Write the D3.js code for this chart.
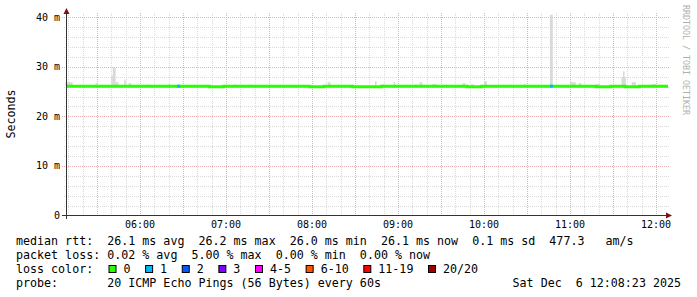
<!DOCTYPE html>
<html>
<head>
<meta charset="utf-8">
<script src="https://cdn.jsdelivr.net/npm/d3@7"></script>
<style>
  body { margin: 0; background: #fff; }
  text { font-family: "DejaVu Sans Mono", monospace; white-space: pre; }
</style>
</head>
<body>
<div id="chart"></div>
<script>
// data
const startTime = "2025-12-06 05:08:23";
const endTime = "2025-12-06 12:08:23";
const yTicks = [0, 10, 20, 30, 40];
const yTickLabels = ["0", "10 m", "20 m", "30 m", "40 m"];
const hourTicks = ["06:00", "07:00", "08:00", "09:00", "10:00", "11:00", "12:00"];

// median rtt (ms), one value per 10 minutes from 05:08
const medianRtt = [26.1, 26.1, 26.1, 26.1, 26.1, 26.1, 26.1, 26.1, 26.1, 26.1,
                   26.0, 26.1, 26.1, 26.1, 26.1, 26.1, 26.1, 26.0, 26.1, 26.1,
                   26.0, 26.0, 26.1, 26.1, 26.1, 26.1, 26.1, 26.1, 26.0, 26.1,
                   26.1, 26.1, 26.1, 26.1, 26.1, 26.1, 26.1, 26.0, 26.1, 26.0,
                   26.1, 26.1];

// smoke (spread of the 20 pings above the median)
const smokeFrom = ["05:08", "05:29", "05:40", "05:41", "05:43", "05:49", "05:52", "06:05", "06:20", "06:46",
                   "07:06", "07:16", "08:11", "08:44", "08:49", "08:57", "09:05", "09:12", "09:15", "09:24",
                   "09:45", "09:51", "10:00", "10:18", "10:28", "10:46", "11:00", "11:06", "11:18", "11:36",
                   "11:37", "11:43", "11:57"];
const smokeTo   = ["05:13", "05:30", "05:41", "05:43", "05:45", "05:50", "05:54", "06:06", "06:21", "06:47",
                   "07:07", "07:17", "08:13", "08:45", "08:50", "08:58", "09:06", "09:13", "09:17", "09:27",
                   "09:47", "09:53", "10:02", "10:19", "10:29", "10:48", "11:04", "11:08", "11:21", "11:39",
                   "11:38", "11:46", "12:00"];
const smokeMax  = [26.9, 26.7, 28.3, 29.9, 26.9, 27.4, 26.7, 26.5, 26.5, 26.4,
                   26.5, 26.4, 26.9, 27.1, 26.5, 26.9, 26.4, 26.5, 26.9, 26.5,
                   26.7, 26.5, 27.1, 26.4, 26.5, 40.5, 26.9, 26.7, 26.5, 27.9,
                   29.1, 26.9, 26.5];

// packet loss events
const lossTimes = ["06:26", "10:46"];
const lossCount = [1, 1];

const lossLabels = ["0", "1", "2", "3", "4-5", "6-10", "11-19", "20/20"];
const lossColors = ["#26ff00", "#00b8ff", "#0059ff", "#7e00ff", "#ff00ff", "#ff5500", "#ff0000", "#a10000"];

const legendLines = [
    "median rtt:  26.1 ms avg  26.2 ms max  26.0 ms min  26.1 ms now  0.1 ms sd  477.3   am/s",
    "packet loss: 0.02 % avg  5.00 % max  0.00 % min  0.00 % now",
    "loss color:",
    "probe:       20 ICMP Echo Pings (56 Bytes) every 60s"
];
const stampText = "Sat Dec  6 12:08:23 2025";

// ---------------------------------------------------------------
const width = 697, height = 297;
const svg = d3.select("#chart").append("svg").attr("width", width).attr("height", height)
    .style("background", "#fff");

const parse = d3.timeParse("%Y-%m-%d %H:%M:%S");
const day = "2025-12-06 ";
const t = s => parse(day + s + ":00");
const t0 = parse(startTime), t1 = parse(endTime);

const x = d3.scaleTime().domain([t0, t1]).range([66, 668]);
const y = d3.scaleLinear().domain([0, 40]).range([215.5, 17.3]);
const plotTop = 13;

// grid
const minorX = d3.timeMinute.every(10).range(t0, t1);
const majorX = d3.timeMinute.every(30).range(t0, t1);
const minorY = d3.range(2, 41, 2).filter(v => v % 10 != 0);

const grid = svg.append("g").attr("shape-rendering", "crispEdges");
grid.selectAll(".mx").data(minorX).enter().append("line")
    .attr("x1", d => Math.round(x(d)) + 0.5).attr("x2", d => Math.round(x(d)) + 0.5)
    .attr("y1", plotTop).attr("y2", 215)
    .attr("stroke", "#dadada").attr("stroke-dasharray", "1,1");
grid.selectAll(".my").data(minorY).enter().append("line")
    .attr("x1", 64).attr("x2", 669)
    .attr("y1", d => Math.round(y(d)) + 0.5).attr("y2", d => Math.round(y(d)) + 0.5)
    .attr("stroke", "#dadada").attr("stroke-dasharray", "1,1");
grid.selectAll(".Mx").data(majorX).enter().append("line")
    .attr("x1", d => Math.round(x(d)) + 0.5).attr("x2", d => Math.round(x(d)) + 0.5)
    .attr("y1", plotTop).attr("y2", 215)
    .attr("stroke", "#e8b0b0").attr("stroke-dasharray", "1,1");
grid.selectAll(".My").data(yTicks.slice(1)).enter().append("line")
    .attr("x1", 62).attr("x2", 669)
    .attr("y1", d => Math.round(y(d)) + 0.5).attr("y2", d => Math.round(y(d)) + 0.5)
    .attr("stroke", "#e8b0b0").attr("stroke-dasharray", "1,1");

// smoke
const smoke = smokeFrom.map((s, i) => [t(s), t(smokeTo[i]), smokeMax[i]]);
svg.append("g").selectAll("rect").data(smoke).enter().append("rect")
    .attr("x", d => x(d[0])).attr("width", d => Math.max(1.5, x(d[1]) - x(d[0])))
    .attr("y", d => y(d[2])).attr("height", d => y(26.1) - y(d[2]))
    .attr("fill", "#d9d9d9");

// median line
const medPts = medianRtt.map((v, i) => [d3.timeMinute.offset(t0, i * 10), v]);
medPts.push([t1, medianRtt[medianRtt.length - 1]]);
svg.append("path")
    .attr("d", d3.line().x(d => x(d[0])).y(d => y(d[1])).curve(d3.curveStepAfter)(medPts))
    .attr("fill", "none").attr("stroke", lossColors[0]).attr("stroke-width", 3);

// loss coloured points on the median
svg.append("g").selectAll("rect").data(lossTimes).enter().append("rect")
    .attr("x", d => x(t(d))).attr("width", d => x(d3.timeMinute.offset(t(d), 2)) - x(t(d)))
    .attr("y", d => y(medianRtt[Math.floor((t(d) - t0) / 600000)]) - 1.5).attr("height", 3)
    .attr("fill", (d, i) => lossColors[lossCount[i]]);

// axes
const axisColor = "#333", arrowColor = "#7f1010";
svg.append("line").attr("x1", 62).attr("x2", 668).attr("y1", 215.5).attr("y2", 215.5)
    .attr("stroke", axisColor).attr("stroke-width", 1);
svg.append("line").attr("x1", 66.5).attr("x2", 66.5).attr("y1", 219).attr("y2", 12)
    .attr("stroke", axisColor).attr("stroke-width", 1);
svg.append("path").attr("d", "M666,212.5 L672,215.5 L666,218.5 Z").attr("fill", arrowColor);
svg.append("path").attr("d", "M63.5,14 L66.5,8 L69.5,14 Z").attr("fill", arrowColor);

// tick labels
svg.append("g").selectAll("text").data(yTicks).enter().append("text")
    .attr("x", 60).attr("y", d => y(d) + 3.5).attr("text-anchor", "end")
    .attr("font-size", 10).attr("fill", "#000").text((d, i) => yTickLabels[i]);
svg.append("g").selectAll("text").data(hourTicks).enter().append("text")
    .attr("x", d => x(t(d))).attr("y", 228).attr("text-anchor", "middle")
    .attr("font-size", 10).attr("fill", "#000").text(d => d);

// axis title
svg.append("text").attr("transform", "translate(15,114) rotate(-90)")
    .attr("text-anchor", "middle").attr("font-size", 11.66).attr("fill", "#000").text("Seconds");

// watermark
svg.append("text").attr("transform", "translate(683,5) rotate(90)")
    .attr("font-size", 8.3).attr("fill", "#b0b0b0").text("RRDTOOL / TOBI OETIKER");

// legend
const fs = 11.66;
svg.append("g").selectAll("text").data(legendLines).enter().append("text")
    .attr("x", 16).attr("y", (d, i) => 245 + i * 14)
    .attr("font-size", fs).attr("fill", "#000").text(d => d);
svg.append("text").attr("x", 681).attr("y", 287).attr("text-anchor", "end")
    .attr("font-size", fs).attr("fill", "#000").text(stampText);

const charW = fs * 0.602;
let lx = 108.5;
const lossG = svg.append("g");
lossLabels.forEach((lab, i) => {
    lossG.append("rect").attr("x", lx + 0.5).attr("y", 265.5).attr("width", 7).attr("height", 7)
        .attr("fill", lossColors[i]).attr("stroke", "#000").attr("stroke-width", 1);
    lossG.append("text").attr("x", lx + 15).attr("y", 273)
        .attr("font-size", fs).attr("fill", "#000").text(lab);
    lx += 15 + lab.length * charW + 14.6;
});
</script>
</body>
</html>
